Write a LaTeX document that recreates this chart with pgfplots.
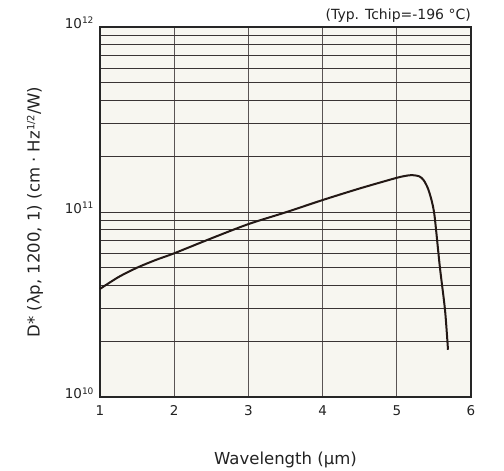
\documentclass[border=0pt]{standalone}
\usepackage{fontspec}
\setmainfont{DejaVu Sans}
\usepackage{pgfplots}
\pgfplotsset{compat=1.18}
\definecolor{bgc}{HTML}{F7F6F0}
\definecolor{gridc}{HTML}{3A3434}
\definecolor{vgridc}{HTML}{5A5454}
\definecolor{curvec}{HTML}{231815}
\definecolor{txtc}{HTML}{222222}
\newcommand{\tp}[1]{10\raisebox{0.6ex}{\fontsize{9}{9}\selectfont #1}}
\begin{document}
\begin{tikzpicture}
\begin{axis}[
  at={(0,0)}, anchor=south west,
  scale only axis, width=371pt, height=370pt,
  xmin=1, xmax=6, ymin=1e10, ymax=1e12,
  ymode=log,
  xtick={1,2,3,4,5,6},
  ytick={1e10,1e11,1e12},
  yticklabels={\tp{10},\tp{11},\tp{12}},
  minor ytick={2e10,3e10,4e10,5e10,6e10,7e10,8e10,9e10,2e11,3e11,4e11,5e11,6e11,7e11,8e11,9e11},
  xmajorgrids, ymajorgrids, yminorgrids,
  x grid style={vgridc, line width=1pt},
  y grid style={gridc, line width=0.9pt},
  major tick length=0pt, minor tick length=0pt,
  axis line style={black!85, line width=1.8pt},
  axis background/.style={fill=bgc},
  every tick label/.append style={font=\fontsize{13.5}{15}\selectfont, text=txtc},
  /pgf/number format/assume math mode=true,
  xticklabel style={yshift=-5pt},
  yticklabel style={xshift=-3pt, yshift=4pt},
  clip=false,
]
\addplot[curvec, line width=2pt, smooth, tension=0.45] coordinates {
(1,3.84e10) (1.25,4.45e10) (1.5,5.0e10) (1.75,5.5e10) (2,5.98e10)
(2.5,7.2e10) (3,8.6e10) (3.5,9.95e10) (4,1.16e11) (4.5,1.34e11)
(5,1.53e11) (5.15,1.575e11) (5.22,1.58e11) (5.3,1.56e11) (5.36,1.49e11)
(5.42,1.34e11) (5.47,1.15e11) (5.51,9.45e10) (5.58,5.06e10) (5.65,2.95e10) (5.69,1.8e10)
};
\end{axis}
\node[anchor=south east, font=\fontsize{14}{16}\selectfont, text=txtc, inner sep=0pt] at (371pt,374pt) {(Typ. Tchip=-196 °C)};
\node[anchor=center, font=\fontsize{16.5}{18}\selectfont, text=txtc] at (185.5pt,-63pt) {Wavelength (μm)};
\node[anchor=center, rotate=90, font=\fontsize{16.5}{18}\selectfont, text=txtc] at (-65pt,185pt) {D* (λp, 1200, 1) (cm · Hz\raisebox{0.6ex}{\fontsize{10}{10}\selectfont 1/2}/W)};
\pgfresetboundingbox
\path[use as bounding box] (-100pt,-74pt) rectangle (404pt,397pt);
\end{tikzpicture}
\end{document}
